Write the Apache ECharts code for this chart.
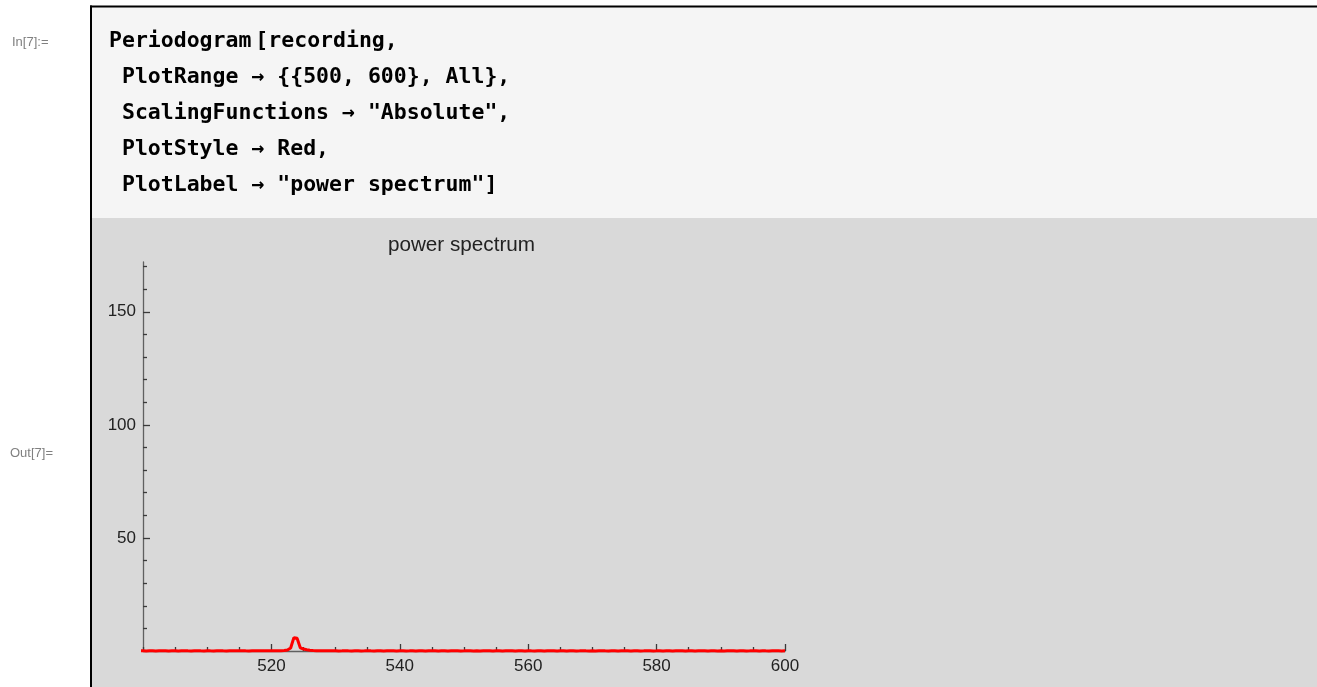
<!DOCTYPE html>
<html>
<head>
<meta charset="utf-8">
<script src="https://cdn.jsdelivr.net/npm/echarts@6/dist/echarts.min.js"></script>
<style>
  html, body { margin: 0; padding: 0; background: #ffffff; }
  #chart { width: 1317px; height: 687px; }
</style>
</head>
<body>
<div id="chart"></div>
<script>
// Periodogram of the recording, 499–600 Hz, absolute scaling
const frequency = [
  499.0, 499.5,
  500.0, 500.5, 501.0, 501.5, 502.0, 502.5, 503.0, 503.5, 504.0, 504.5,
  505.0, 505.5, 506.0, 506.5, 507.0, 507.5, 508.0, 508.5, 509.0, 509.5,
  510.0, 510.5, 511.0, 511.5, 512.0, 512.5, 513.0, 513.5, 514.0, 514.5,
  515.0, 515.5, 516.0, 516.5, 517.0, 517.5, 518.0, 518.5, 519.0, 519.5,
  520.0, 520.5, 521.0, 521.5, 522.0, 522.5, 523.0, 523.5, 524.0, 524.5,
  525.0, 525.5, 526.0, 526.5, 527.0, 527.5, 528.0, 528.5, 529.0, 529.5,
  530.0, 530.5, 531.0, 531.5, 532.0, 532.5, 533.0, 533.5, 534.0, 534.5,
  535.0, 535.5, 536.0, 536.5, 537.0, 537.5, 538.0, 538.5, 539.0, 539.5,
  540.0, 540.5, 541.0, 541.5, 542.0, 542.5, 543.0, 543.5, 544.0, 544.5,
  545.0, 545.5, 546.0, 546.5, 547.0, 547.5, 548.0, 548.5, 549.0, 549.5,
  550.0, 550.5, 551.0, 551.5, 552.0, 552.5, 553.0, 553.5, 554.0, 554.5,
  555.0, 555.5, 556.0, 556.5, 557.0, 557.5, 558.0, 558.5, 559.0, 559.5,
  560.0, 560.5, 561.0, 561.5, 562.0, 562.5, 563.0, 563.5, 564.0, 564.5,
  565.0, 565.5, 566.0, 566.5, 567.0, 567.5, 568.0, 568.5, 569.0, 569.5,
  570.0, 570.5, 571.0, 571.5, 572.0, 572.5, 573.0, 573.5, 574.0, 574.5,
  575.0, 575.5, 576.0, 576.5, 577.0, 577.5, 578.0, 578.5, 579.0, 579.5,
  580.0, 580.5, 581.0, 581.5, 582.0, 582.5, 583.0, 583.5, 584.0, 584.5,
  585.0, 585.5, 586.0, 586.5, 587.0, 587.5, 588.0, 588.5, 589.0, 589.5,
  590.0, 590.5, 591.0, 591.5, 592.0, 592.5, 593.0, 593.5, 594.0, 594.5,
  595.0, 595.5, 596.0, 596.5, 597.0, 597.5, 598.0, 598.5, 599.0, 599.5,
  600.0
];

const power = [
  0.05, 0.06,
  0.08, 0.05, 0.10, 0.07, 0.04, 0.09, 0.06, 0.11, 0.05, 0.08,
  0.07, 0.04, 0.09, 0.12, 0.06, 0.05, 0.08, 0.10, 0.07, 0.05,
  0.09, 0.06, 0.04, 0.08, 0.11, 0.07, 0.05, 0.09, 0.13, 0.08,
  0.06, 0.10, 0.07, 0.05, 0.09, 0.12, 0.08, 0.06, 0.10, 0.14,
  0.11, 0.09, 0.13, 0.16, 0.22, 0.45, 1.30, 5.90, 5.60, 1.40,
  0.90, 0.55, 0.35, 0.22, 0.15, 0.12, 0.09, 0.11, 0.07, 0.06,
  0.08, 0.05, 0.07, 0.10, 0.06, 0.04, 0.08, 0.09, 0.05, 0.07,
  0.11, 0.06, 0.04, 0.08, 0.07, 0.05, 0.09, 0.06, 0.08, 0.04,
  0.07, 0.10, 0.05, 0.06, 0.09, 0.04, 0.08, 0.07, 0.05, 0.11,
  0.06, 0.08, 0.04, 0.09, 0.07, 0.05, 0.10, 0.06, 0.08, 0.05,
  0.06, 0.09, 0.07, 0.04, 0.08, 0.05, 0.10, 0.07, 0.06, 0.04,
  0.08, 0.09, 0.05, 0.07, 0.06, 0.10, 0.04, 0.08, 0.07, 0.05,
  0.09, 0.06, 0.05, 0.08, 0.07, 0.04, 0.10, 0.06, 0.08, 0.05,
  0.07, 0.09, 0.04, 0.06, 0.08, 0.05, 0.07, 0.10, 0.06, 0.04,
  0.08, 0.05, 0.07, 0.09, 0.06, 0.04, 0.08, 0.07, 0.05, 0.10,
  0.06, 0.08, 0.04, 0.07, 0.09, 0.05, 0.06, 0.08, 0.07, 0.05,
  0.06, 0.09, 0.05, 0.07, 0.08, 0.04, 0.10, 0.06, 0.07, 0.05,
  0.08, 0.09, 0.04, 0.06, 0.07, 0.10, 0.05, 0.08, 0.06, 0.04,
  0.07, 0.05, 0.09, 0.06, 0.08, 0.04, 0.07, 0.10, 0.05, 0.06,
  0.08, 0.07, 0.04, 0.09, 0.06, 0.05, 0.08, 0.07, 0.06, 0.05,
  0.06
];

// Axis ticks
const xMajorTicks = [520, 540, 560, 580, 600];
const xMinorTicks = [500, 505, 510, 515, 525, 530, 535, 545, 550, 555, 565, 570, 575, 585, 590, 595];
const yMajorTicks = [50, 100, 150];
const yMinorTicks = [10, 20, 30, 40, 60, 70, 80, 90, 110, 120, 130, 140, 160, 170];
const yMax = 172;

const plotTitle = 'power spectrum';
const inLabel = 'In[7]:=';
const outLabel = 'Out[7]=';
// Input cell, one entry per line; a line may be split into segments
const codeLines = [
  ['Periodogram', '[recording,'],
  [' PlotRange → {{500, 600}, All},'],
  [' ScalingFunctions → "Absolute",'],
  [' PlotStyle → Red,'],
  [' PlotLabel → "power spectrum"]']
];

const W = 1317, H = 687;
const sansFont = '"Liberation Sans", Arial, Helvetica, sans-serif';
const monoFont = '"DejaVu Sans Mono", "Liberation Mono", monospace';
const axisColor = '#606060';
const tickColor = '#3a3a3a';
const labelColor = '#222222';

const codeFontSize = 21.5;
const codeCharW = codeFontSize * 0.602;
const codeLeft = 109;
const codeFirstMiddle = 41.5;
const codeLineStep = 36;

const graphics = [
  // page, input cell and output cell backgrounds
  { type: 'rect', z: -20, silent: true, shape: { x: 0, y: 0, width: W, height: H }, style: { fill: '#ffffff' } },
  { type: 'rect', z: -19, silent: true, shape: { x: 91, y: 7, width: W - 91, height: 211 }, style: { fill: '#f5f5f5' } },
  { type: 'rect', z: -19, silent: true, shape: { x: 91, y: 218, width: W - 91, height: H - 218 }, style: { fill: '#d9d9d9' } },
  // cell frame
  { type: 'rect', z: -18, silent: true, shape: { x: 90, y: 5.5, width: W - 90, height: 2 }, style: { fill: '#000000' } },
  { type: 'rect', z: -18, silent: true, shape: { x: 90, y: 5.5, width: 2, height: H - 5.5 }, style: { fill: '#000000' } },
  // cell labels
  { type: 'text', z: 50, silent: true, style: { x: 12, y: 42.6, text: inLabel, fill: '#808080', font: '13px ' + sansFont, textAlign: 'left', textVerticalAlign: 'middle' } },
  { type: 'text', z: 50, silent: true, style: { x: 10, y: 453, text: outLabel, fill: '#808080', font: '13px ' + sansFont, textAlign: 'left', textVerticalAlign: 'middle' } },
  // plot label
  { type: 'text', z: 50, silent: true, style: { x: 461.5, y: 245, text: plotTitle, fill: labelColor, font: '20.7px ' + sansFont, textAlign: 'center', textVerticalAlign: 'middle' } }
];

codeLines.forEach((segments, i) => {
  let x = codeLeft;
  segments.forEach((seg, j) => {
    if (j > 0) x += 4; // small gap before an opening bracket
    graphics.push({
      type: 'text', z: 50, silent: true,
      style: {
        x: x, y: codeFirstMiddle + i * codeLineStep, text: seg, fill: '#000000',
        font: 'bold ' + codeFontSize + 'px ' + monoFont,
        textAlign: 'left', textVerticalAlign: 'middle'
      }
    });
    x += seg.length * codeCharW;
  });
});

const baseAxis = {
  type: 'value',
  splitLine: { show: false },
  animation: false
};

const option = {
  animation: false,
  backgroundColor: 'transparent',
  graphic: graphics,
  grid: { left: 143, right: W - 785, top: 262, bottom: H - 651, containLabel: false },
  xAxis: [
    Object.assign({}, baseAxis, {
      min: 500, max: 600, position: 'bottom',
      axisLine: { onZero: false, lineStyle: { color: axisColor, width: 1.3 } },
      axisTick: { inside: true, length: 7, customValues: xMajorTicks, lineStyle: { color: tickColor, width: 1.3 } },
      axisLabel: { customValues: xMajorTicks, margin: 7, color: labelColor, fontSize: 17, fontFamily: sansFont }
    }),
    Object.assign({}, baseAxis, {
      min: 500, max: 600, position: 'bottom',
      axisLine: { show: false, onZero: false },
      axisTick: { inside: true, length: 4, customValues: xMinorTicks, lineStyle: { color: tickColor, width: 1.3 } },
      axisLabel: { show: false }
    })
  ],
  yAxis: [
    Object.assign({}, baseAxis, {
      min: 0, max: yMax, position: 'left',
      axisLine: { show: true, onZero: false, lineStyle: { color: axisColor, width: 1.3 } },
      axisTick: { show: true, inside: true, length: 7, customValues: yMajorTicks, lineStyle: { color: tickColor, width: 1.3 } },
      axisLabel: { customValues: yMajorTicks, margin: 7, color: labelColor, fontSize: 17, fontFamily: sansFont }
    }),
    Object.assign({}, baseAxis, {
      min: 0, max: yMax, position: 'left',
      axisLine: { show: false, onZero: false },
      axisTick: { show: true, inside: true, length: 4, customValues: yMinorTicks, lineStyle: { color: tickColor, width: 1.3 } },
      axisLabel: { show: false }
    })
  ],
  series: [{
    type: 'line',
    xAxisIndex: 0,
    yAxisIndex: 0,
    data: frequency.map((f, i) => [f, power[i]]),
    showSymbol: false,
    symbol: 'none',
    clip: false,
    smooth: false,
    lineStyle: { color: '#ff0000', width: 3 },
    z: 5
  }]
};

const chart = echarts.init(document.getElementById('chart'), null, { renderer: 'canvas', width: W, height: H });
chart.setOption(option);
</script>
</body>
</html>
